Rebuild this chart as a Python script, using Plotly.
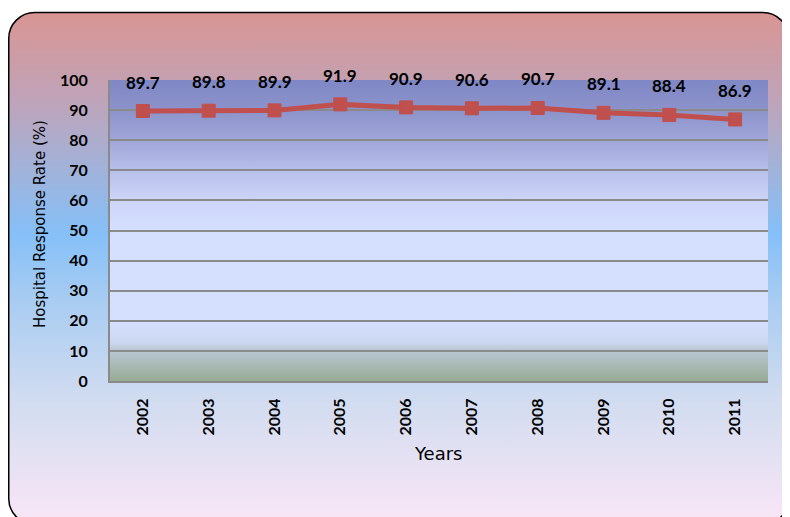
import base64
import plotly.graph_objects as go

years = ["2002", "2003", "2004", "2005", "2006", "2007", "2008", "2009", "2010", "2011"]
rates = [89.7, 89.8, 89.9, 91.9, 90.9, 90.6, 90.7, 89.1, 88.4, 86.9]
y_ticks = [0, 10, 20, 30, 40, 50, 60, 70, 80, 90, 100]

# page has an 8px body margin, so figure coordinates = page coordinates - 8
OFF = 8
W, H = 790 - OFF, 517 - OFF
L, T = 110 - OFF, 80 - OFF
R = W - (768 - OFF)
B = H - (381 - OFF)
PW, PH = W - L - R, H - T - B

NUM_FONT = "Lato"
TXT_FONT = "DejaVu Sans"
RED = "#c0504d"


def svg_uri(svg):
    return "data:image/svg+xml;base64," + base64.b64encode(svg.encode()).decode()


outer_svg = f"""<svg xmlns='http://www.w3.org/2000/svg' width='{W}' height='{H}' viewBox='0 0 {W} {H}'>
<defs><linearGradient id='g' gradientUnits='userSpaceOnUse' x1='0' y1='4' x2='0' y2='509'>
<stop offset='0' stop-color='#d99593'/>
<stop offset='0.17' stop-color='#c0a3b8'/>
<stop offset='0.44' stop-color='#85c0f8'/>
<stop offset='0.57' stop-color='#a8ccf2'/>
<stop offset='0.77' stop-color='#d2dcf0'/>
<stop offset='1' stop-color='#f7e6f6'/>
</linearGradient></defs>
<rect x='0.75' y='4.5' width='780' height='512' rx='26' ry='26' fill='url(#g)' stroke='#000' stroke-width='1.5'/>
</svg>"""

plot_svg = """<svg xmlns='http://www.w3.org/2000/svg' width='100' height='301' viewBox='0 0 100 301' preserveAspectRatio='none'>
<defs><linearGradient id='p' x1='0' y1='0' x2='0' y2='1'>
<stop offset='0' stop-color='#7f87c5'/>
<stop offset='0.1' stop-color='#8c93cb'/>
<stop offset='0.2' stop-color='#a0a6d8'/>
<stop offset='0.3' stop-color='#b8bfea'/>
<stop offset='0.4' stop-color='#cdd5f8'/>
<stop offset='0.5' stop-color='#d5dfff'/>
<stop offset='0.8' stop-color='#d5e0ff'/>
<stop offset='0.87' stop-color='#ccd8f0'/>
<stop offset='0.9' stop-color='#b9c7d2'/>
<stop offset='1' stop-color='#97ab95'/>
</linearGradient></defs>
<rect x='0' y='0' width='100' height='301' fill='url(#p)'/>
</svg>"""

fig = go.Figure()
fig.add_trace(go.Scatter(
    x=years, y=rates, mode="lines+markers",
    line=dict(color=RED, width=5),
    marker=dict(symbol="square", size=13, color=RED, line=dict(color=RED, width=1)),
    hoverinfo="skip", showlegend=False,
))

for i, v in enumerate(rates):
    fig.add_annotation(x=i, y=v, text=f"{v:.1f}", showarrow=False, yshift=29,
                       xanchor="center", yanchor="middle",
                       font=dict(family=NUM_FONT, size=17, color="#000", weight="bold"))

fig.add_annotation(xref="paper", yref="paper", x=(40 - 110) / PW, y=(381 - 224) / PH,
                   xanchor="center", yanchor="middle",
                   text="Hospital Response Rate (%)", textangle=-90, showarrow=False,
                   font=dict(family=TXT_FONT, size=15, color="#000"))
fig.add_annotation(xref="paper", yref="paper", x=(438 - 110) / PW, y=-(453 - 381) / PH,
                   xanchor="center", yanchor="middle",
                   text="Years", showarrow=False,
                   font=dict(family=TXT_FONT, size=18, color="#000"))

tick_font = dict(family=NUM_FONT, size=16, color="#000", weight="bold")

fig.update_layout(
    width=W, height=H,
    margin=dict(l=L, r=R, t=T, b=B),
    paper_bgcolor="white",
    plot_bgcolor="rgba(0,0,0,0)",
    images=[
        dict(source=svg_uri(outer_svg), xref="paper", yref="paper",
             x=-L / PW, y=1 + T / PH, sizex=W / PW, sizey=H / PH,
             xanchor="left", yanchor="top", sizing="stretch", layer="below"),
        dict(source=svg_uri(plot_svg), xref="paper", yref="paper",
             x=0, y=1, sizex=1, sizey=1,
             xanchor="left", yanchor="top", sizing="stretch", layer="below"),
    ],
    xaxis=dict(type="category", range=[-0.5, 9.5], tickangle=-90,
               showline=True, linecolor="#8a8a8a", linewidth=2,
               showgrid=False, ticks="outside", ticklen=9, tickcolor="rgba(0,0,0,0)",
               tickfont=tick_font, fixedrange=True),
    yaxis=dict(range=[0, 100], tickvals=y_ticks,
               showline=True, linecolor="#8a8a8a", linewidth=2,
               showgrid=True, gridcolor="#8a8a8a", gridwidth=1.5, zeroline=False,
               ticks="outside", ticklen=17, tickcolor="rgba(0,0,0,0)",
               tickfont=tick_font, fixedrange=True),
)

fig.write_html("out.html")
